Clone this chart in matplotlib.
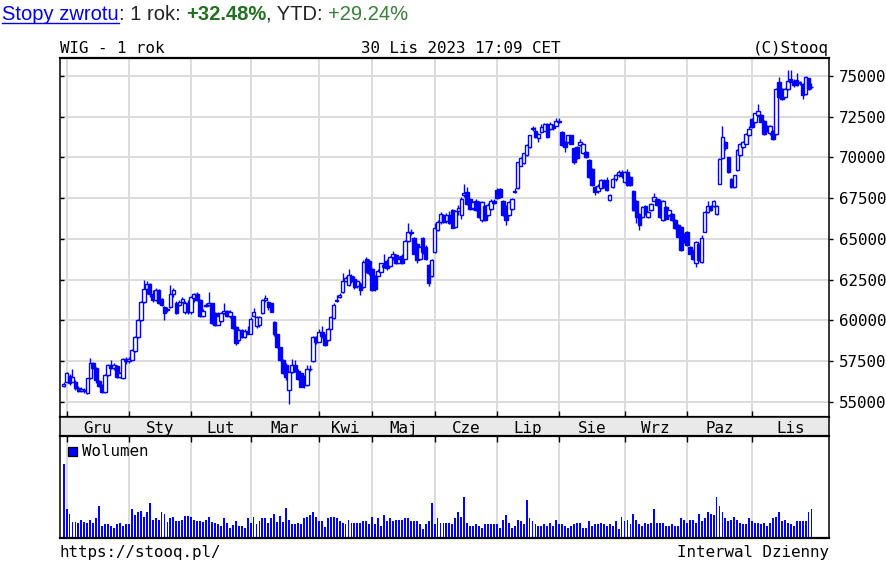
import matplotlib
matplotlib.use("Agg")
import matplotlib.pyplot as plt
from matplotlib.lines import Line2D
from matplotlib.patches import Rectangle

W, H = 887, 564

# ---------------- data ----------------
opens = [
 56000,56240,56590,56250,56240,55830,55700,55750,55530,56450,
 57365,57100,56300,56000,55600,56650,57250,57100,57200,56550,
 56450,57650,57500,57600,58100,59000,60020,61140,61950,62250,
 61650,61250,61900,61300,60850,60650,60800,61600,61050,60950,
 61150,60500,61100,60500,61400,61600,61250,60300,60900,60950,
 61050,60450,59750,59950,60450,60600,60300,60250,59600,58800,
 59400,59000,59350,59200,60250,59650,59700,60450,61250,61150,
 61050,59900,59150,58350,57550,57300,55750,56850,57250,56900,
 56750,56300,56050,57050,57500,59000,58700,59300,59100,58800,
 59500,60150,61200,61450,61750,62450,62150,62750,62550,62100,
 62250,62050,63800,63650,63150,62750,62750,63000,63400,63650,
 63350,63900,64000,63550,63950,63800,64850,65450,65050,64700,
 63750,65050,64500,63400,62700,64200,65550,66050,66450,66100,
 66500,66750,65750,66700,66450,67700,67900,67450,66900,67350,
 67250,66150,67050,66450,66850,67350,68000,68050,67350,67050,
 66450,66850,67900,68100,69500,69650,70150,70650,71750,71650,
 71200,71550,71650,72050,71750,72000,71950,72250,71550,70950,
 70950,71350,70550,70650,70750,70250,70350,69850,69300,68200,
 67950,68100,68550,68600,67400,68200,68650,68900,69100,68500,
 69100,68800,67950,67350,66550,66350,67050,66350,66750,67350,
 67450,67350,66150,66950,66450,66550,66150,65850,65750,65300,
 65450,64500,64300,63500,64700,63600,65450,66650,67050,67050,
 66550,68400,69950,70950,70000,68700,68200,69200,70150,70650,
 70850,71350,72350,72150,72600,72600,72250,71950,71500,71650,
 71450,74600,74200,73700,74200,74800,74700,74750,74550,74500,
 73900,74850,74300]
highs = [
 56250,56850,56700,57000,56350,56000,55900,55850,56500,57670,
 57450,57150,56350,56100,56700,57350,57600,57400,57250,56850,
 57700,57750,57750,58250,59050,60100,61200,62470,62400,62300,
 61900,62000,61950,61400,60900,60850,62150,62000,61200,61250,
 61450,61200,61250,61500,61700,61750,61300,60700,61050,61750,
 61100,60500,60500,60550,61050,60650,60650,60300,59650,59450,
 59500,59450,59650,60200,60750,60250,60300,61300,61550,61200,
 61100,59950,59200,58400,57650,57400,56900,57650,57600,57000,
 56800,56650,57300,57250,59050,59050,59500,59650,59200,59550,
 60300,61050,61550,61700,62900,62700,63150,62850,62750,62500,
 62350,63700,63900,63750,63200,62800,63150,63550,64100,63750,
 63950,64250,64100,63950,64050,64950,65950,65600,65100,64750,
 64550,65150,64600,63450,63750,65950,66150,66650,66550,66600,
 66700,66850,66800,67100,67550,68400,68200,67500,67350,67450,
 67300,67300,67100,67200,67450,67450,68100,68150,67400,67100,
 67300,67500,68100,69750,70000,70300,70800,71400,71950,71850,
 71500,72050,72100,72100,72150,72050,72450,72450,71600,71000,
 71400,71400,70600,70700,71150,70900,70400,69900,69350,68250,
 68350,68700,68650,68800,67750,68750,69000,69200,69200,69150,
 69300,68850,68000,67400,66600,67000,67100,66700,67200,67800,
 67500,67450,67400,67000,66800,66600,66200,65900,65800,65350,
 65500,64550,64350,64850,64750,65250,66700,67350,67100,67400,
 67100,69950,71950,71000,70050,68750,68950,70500,70900,71000,
 71500,71900,72400,72750,73300,72650,72300,72000,72000,71700,
 74250,74950,74250,74250,75350,75350,74800,75150,74700,74550,
 75000,74900,74550]
lows = [
 55950,56200,56050,56200,55750,55600,55600,55550,55500,56400,
 57000,56150,55950,55550,55530,56600,57000,56950,56500,56450,
 56400,57350,57400,57550,58050,58950,59950,61100,61600,61450,
 61150,61200,61000,60900,60020,60550,60750,61450,60400,60900,
 61100,60400,60400,60400,61150,61200,60200,60200,60850,60900,
 59800,59650,59700,59900,60400,60200,60150,59500,58500,58750,
 58900,58950,59150,59150,60200,59550,59600,60400,61150,60650,
 60500,59050,58300,57500,56700,56350,54900,56750,56850,56350,
 55900,55850,56000,56900,57450,58550,58650,58950,58450,58750,
 59450,60100,61150,61400,61700,62350,62100,62300,61950,62000,
 61550,62000,62950,62800,61800,61800,62700,62950,63200,63100,
 63300,63700,63450,63500,63450,63750,64800,65250,64050,63550,
 63700,64100,63700,62100,62650,64150,65500,65900,65950,66000,
 65900,65650,65700,66500,66250,67600,67100,66800,66800,66700,
 66300,66050,66100,66400,66800,67150,67450,67500,66400,65850,
 66400,66800,67800,68050,69450,69600,70100,70600,71650,71200,
 70950,71500,71600,71200,71700,71700,71900,72100,70700,70350,
 70900,70800,69600,69900,70700,70200,69950,68750,68250,67700,
 67850,68050,68100,67950,67350,68150,68550,68800,68750,68450,
 68250,68250,66700,65950,65550,66300,66500,66300,66700,67300,
 67050,66300,66100,66200,66400,66100,65600,65100,64250,64750,
 64550,64050,63700,63300,63650,63550,65400,66600,66700,66950,
 66500,68350,69900,70450,69050,68100,68150,69150,70100,70600,
 70800,71300,71800,72100,72500,72150,71400,71550,71400,71050,
 71400,73650,73550,73650,74150,74600,74350,74400,74450,73600,
 73850,74150,74200]
closes = [
 56100,56750,56150,56550,55830,55700,55780,55650,56450,57365,
 57100,56350,56000,55600,56650,57250,57100,57300,56550,56750,
 57650,57500,57650,58180,59000,60020,61140,61960,62250,61650,
 61250,61900,61100,60950,60450,60700,61600,61900,60450,61150,
 61300,61100,60500,61450,61600,61250,60250,60600,60950,61100,
 59850,59700,60300,60450,60600,60300,60550,59550,58600,59400,
 59000,59350,59200,60100,60500,60200,60200,61250,61350,60800,
 60550,59150,58350,57600,56750,56550,56850,57250,56900,56400,
 55950,56050,57050,57000,59000,58700,59300,59050,58500,59500,
 60220,60950,61250,61550,62450,62600,62800,62450,62050,62400,
 61850,63600,63000,62900,61850,61950,63050,63500,63300,63200,
 63900,64050,63500,63800,63500,64900,65450,65350,64100,63700,
 64500,64200,63800,62270,63700,65650,66050,66550,66050,66500,
 66000,65700,66700,66900,67450,67800,67150,66850,67250,66750,
 66350,67250,66150,67100,67350,67200,67500,67550,66450,66150,
 67250,67450,67950,69700,69950,70250,70750,71350,71800,71250,
 71450,71850,72050,71250,72050,71800,72250,72150,70750,70650,
 71350,70850,69700,69950,70950,70850,70050,68800,68300,67900,
 68250,68600,68200,68000,67700,68700,68900,69100,68850,69100,
 68300,68300,66750,66350,65850,66950,66550,66650,67150,67550,
 67100,66350,67350,66250,66750,66150,65650,65150,64300,64800,
 64600,64100,63800,64800,63700,65050,66650,67050,66750,67300,
 67050,69900,71250,70550,69100,68200,68900,70450,70850,70950,
 71450,71750,71850,72700,72850,72200,71450,71650,71950,71150,
 74200,73700,73600,74200,74700,74650,74450,74450,74600,73800,
 74950,74200,74350]
volume = [
 220,85,70,48,48,43,52,48,43,52,
 44,58,94,35,40,40,35,30,40,43,
 35,40,40,85,67,77,79,62,76,103,
 54,58,54,76,71,48,60,61,49,49,
 54,64,66,62,52,49,49,46,52,62,
 48,43,40,34,58,43,30,39,49,35,
 35,30,58,44,62,40,49,58,58,44,
 58,71,48,64,48,89,53,40,40,44,
 40,58,62,67,76,62,49,49,31,58,
 62,62,58,49,44,40,53,44,44,44,
 44,49,49,40,62,40,58,35,67,49,
 58,49,53,53,53,58,58,49,49,49,
 40,26,40,49,103,40,58,44,44,44,
 44,40,58,76,62,121,44,35,35,40,
 35,30,40,40,40,40,40,30,53,67,
 44,30,35,53,49,40,112,58,49,40,
 35,35,40,35,44,35,53,40,40,35,
 30,35,40,44,44,30,30,49,35,40,
 40,44,40,35,40,35,49,26,62,49,
 53,40,71,53,40,35,44,40,44,85,
 44,44,44,35,35,40,35,35,58,53,
 44,53,53,44,71,49,58,76,71,67,
 121,94,76,58,49,53,62,53,44,40,
 40,58,49,44,44,40,44,35,44,58,
 62,76,49,53,44,40,35,49,49,49,
 49,76,85]
month_labels = ["Gru", "Sty", "Lut", "Mar", "Kwi", "Maj",
                "Cze", "Lip", "Sie", "Wrz", "Paz", "Lis"]
month_start_idx = [1, 22, 43, 63, 86, 104, 125, 146, 167, 189, 210, 232]
price_ticks = [55000, 57500, 60000, 62500, 65000, 67500, 70000, 72500, 75000]
header_parts = [("Stopy zwrotu", "#0000ee", "normal"),
                (": 1 rok: ", "#222222", "normal"),
                ("+32.48%", "#237023", "bold"),
                (", YTD: ", "#222222", "normal"),
                ("+29.24%", "#3a7f3a", "normal")]

# ---------------- layout ----------------
MONO = "DejaVu Sans Mono"
FS = 11.4
BLUE = "#0000ff"
GRID = "#dcdcdc"

fig = plt.figure(figsize=(W / 100, H / 100), dpi=100)
fig.patch.set_facecolor("white")

def rect(l, t, r, b):
    return [l / W, 1 - b / H, (r - l) / W, (b - t) / H]

L, R = 60, 829
axp = fig.add_axes(rect(L, 58, R, 417))
axm = fig.add_axes(rect(L, 417, R, 436))
axv = fig.add_axes(rect(L, 436, R, 537.5))

xlim = (-1.21, 257.9)
n = len(closes)
idx = list(range(n))

for ax in (axp, axm, axv):
    ax.set_xlim(*xlim)
    for s in ax.spines.values():
        s.set_color("black")
        s.set_linewidth(1.1)
axp.spines["top"].set_linewidth(1.6)
axp.spines["bottom"].set_linewidth(1.6)
axv.spines["top"].set_linewidth(1.6)
axv.spines["bottom"].set_linewidth(1.6)

# price panel
axp.set_ylim(54080, 76100)
axp.set_yticks(price_ticks)
axp.set_xticks(month_start_idx)
axp.grid(True, color=GRID, linewidth=1.4, zorder=0)
axp.set_axisbelow(True)
axp.tick_params(axis="x", direction="in", length=4, width=1, labelbottom=False,
                bottom=True, top=False)
axp.tick_params(axis="y", direction="in", length=3, width=1, left=True,
                right=False, labelleft=False)
axr = axp.twinx()
axr.set_ylim(axp.get_ylim())
axr.set_yticks(price_ticks)
axr.set_yticklabels([str(t) for t in price_ticks], family=MONO, fontsize=FS)
axr.tick_params(axis="y", direction="out", length=3, width=1, pad=4)
for s in axr.spines.values():
    s.set_visible(False)

body_w = 1.2
for i in idx:
    o, h, l, c = opens[i], highs[i], lows[i], closes[i]
    axp.vlines(i, l, h, color=BLUE, linewidth=1.0, zorder=2)
    up = c >= o
    bottom = min(o, c)
    height = max(abs(c - o), 40)
    axp.add_patch(Rectangle((i - body_w / 2, bottom), body_w, height,
                            facecolor="white" if up else BLUE,
                            edgecolor=BLUE, linewidth=1.0, zorder=3))

# month strip
axm.set_facecolor("#e9e9e9")
axm.set_ylim(0, 1)
axm.set_xticks([])
axm.set_yticks([])
bounds = month_start_idx + [xlim[1]]
for k, lab in enumerate(month_labels):
    xc = (bounds[k] + bounds[k + 1]) / 2
    axm.text(xc, 0.42, lab, ha="center", va="center", family=MONO, fontsize=FS)

# volume panel
axv.set_ylim(0, 305)
axv.set_xticks(month_start_idx)
axv.set_yticks([])
axv.grid(True, axis="x", color=GRID, linewidth=1.4, zorder=0)
axv.set_axisbelow(True)
axv.tick_params(axis="x", direction="in", length=4, width=1, labelbottom=False,
                bottom=False, top=True)
axv.bar(idx, volume, width=0.64, color=BLUE, linewidth=0, zorder=2,
        antialiased=False)

# texts above / below
def ftext(x, y, s, **kw):
    return fig.text(x / W, 1 - y / H, s, **kw)

fig.add_artist(Rectangle((68 / W, 1 - 456 / H), 9 / W, 9 / H,
                         transform=fig.transFigure, facecolor=BLUE,
                         edgecolor="black", linewidth=0.9, zorder=5))
ftext(82, 451, "Wolumen", family=MONO, fontsize=FS, va="center", ha="left")

ftext(L, 53, "WIG - 1 rok", family=MONO, fontsize=FS, va="baseline")
ftext(461, 53, "30 Lis 2023 17:09 CET", family=MONO, fontsize=FS,
      va="baseline", ha="center")
ftext(R, 53, "(C)Stooq", family=MONO, fontsize=FS, va="baseline", ha="right")
ftext(L, 557, "https://stooq.pl/", family=MONO, fontsize=FS, va="baseline")
ftext(R, 557, "Interwal Dzienny", family=MONO, fontsize=FS, va="baseline",
      ha="right")

fig.canvas.draw()
renderer = fig.canvas.get_renderer()
x = 2
for k, (s, col, wt) in enumerate(header_parts):
    t = ftext(x, 20, s, family="Liberation Sans", fontsize=14.5, color=col,
              fontweight=wt, va="baseline")
    bb = t.get_window_extent(renderer)
    if k == 0:
        fig.add_artist(Line2D([x / W, (x + bb.width) / W],
                              [1 - 22.5 / H, 1 - 22.5 / H], color=col,
                              linewidth=1.0))
    x += bb.width

fig.savefig("out.png", dpi=100)
